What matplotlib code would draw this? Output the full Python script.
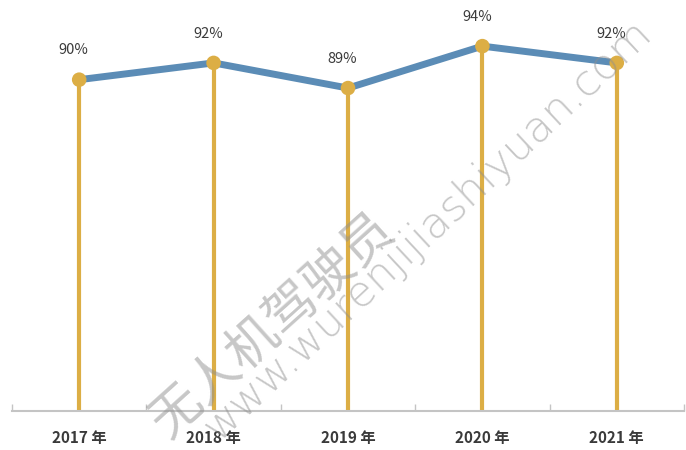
import matplotlib
matplotlib.use("Agg")
import matplotlib.pyplot as plt

plt.rcParams['font.family'] = ['Noto Sans CJK SC', 'DejaVu Sans']

# data
years = ["2017 年", "2018 年", "2019 年", "2020 年", "2021 年"]
rates = [90, 92, 89, 94, 92]
labels = ["90%", "92%", "89%", "94%", "92%"]

line_color = "#5b8cb6"
stem_color = "#dcae45"
text_color = "#3a3a3a"

fig = plt.figure(figsize=(6.86, 4.5), dpi=100)
ax = fig.add_axes([12 / 686, 1 - 411 / 450, 672 / 686, 411 / 450])

y_bottom = 50.5
x = list(range(len(years)))

# gold stems from the axis up to each point
ax.vlines(x, y_bottom, rates, color=stem_color, linewidth=3, zorder=2)
# blue connecting line
ax.plot(x, rates, color=line_color, linewidth=5, solid_capstyle='round', zorder=3)
# gold dots
ax.scatter(x, rates, s=110, color=stem_color, zorder=4, edgecolors='none')

for xi, yi, lab in zip(x, rates, labels):
    ax.annotate(lab, (xi, yi), xytext=(-4, 16), textcoords='offset points',
                ha='center', va='bottom', fontsize=10.5, color=text_color)

ax.set_xlim(-0.5, len(years) - 0.5)
ax.set_ylim(y_bottom, 99.5)

for side in ["top", "right", "left"]:
    ax.spines[side].set_visible(False)
ax.spines["bottom"].set_color("#c4c4c4")
ax.spines["bottom"].set_linewidth(1.5)

ax.set_yticks([])
ax.set_xticks(x)
ax.set_xticklabels(years, fontsize=11, color=text_color, fontweight='bold')
ax.tick_params(axis='x', which='major', length=0, pad=14)
ax.set_xticks([i - 0.5 for i in range(len(years) + 1)], minor=True)
ax.tick_params(axis='x', which='minor', direction='in', length=5, color="#c4c4c4", width=1)

# faint diagonal watermark
fig.text(0.205, 0.005, "无人机驾驶员", rotation=42, fontsize=37, color="#8f8f8f",
         alpha=0.5, ha='left', va='bottom', fontweight='light')
fig.text(0.285, 0.005, "www.wurenjijiashiyuan.com", rotation=43, fontsize=31,
         color="#8f8f8f", alpha=0.5, ha='left', va='bottom', family=['DejaVu Sans'],
         fontweight='light')

fig.savefig("out.png", dpi=100)
